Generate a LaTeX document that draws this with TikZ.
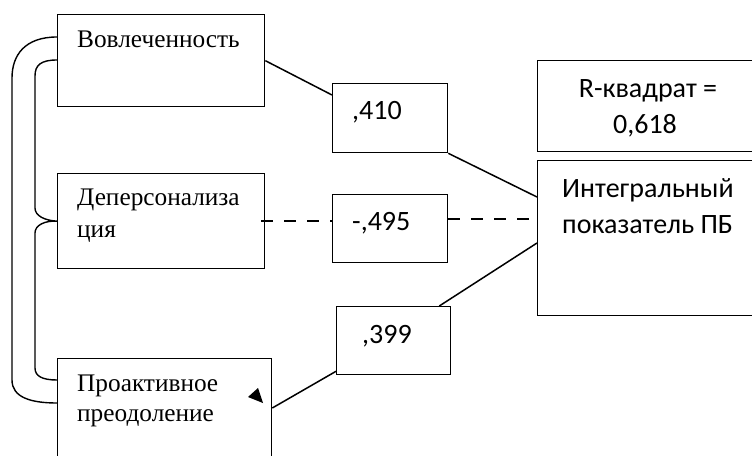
\documentclass[tikz,border=0pt]{standalone}
\usepackage{fontspec}
\setmainfont{Liberation Serif}
\newfontfamily\sansf{Carlito}
\usetikzlibrary{calc}
\begin{document}
\begin{tikzpicture}[x=1pt,y=-1pt,
  box/.style={draw, line width=1.3pt, anchor=north west, inner sep=0pt},
  ltext/.style={anchor=base west, inner sep=0pt, font=\fontsize{25.3}{30}\selectfont},
  rtext/.style={anchor=base, inner sep=0pt, font=\sansf\fontsize{28}{36}\selectfont},
  conn/.style={line width=1.5pt},
  dconn/.style={line width=1.5pt, dash pattern=on 12pt off 11pt},
  brace/.style={line width=1.4pt}]
\useasboundingbox (0,0) rectangle (752,455);
\clip (0,0) rectangle (752,455);
% left boxes
\node[box, minimum width=207pt, minimum height=92pt] (b1) at (57,14) {};
\node[box, minimum width=207pt, minimum height=95pt] (b2) at (57,173) {};
\node[box, minimum width=214pt, minimum height=120pt] (b3) at (57,358) {};
% coefficient boxes
\node[box, minimum width=115pt, minimum height=69pt] (c1) at (332,83) {};
\node[box, minimum width=115pt, minimum height=68pt] (c2) at (332,194) {};
\node[box, minimum width=114pt, minimum height=68pt] (c3) at (336,306) {};
% right boxes
\node[box, minimum width=240pt, minimum height=91pt] (rq) at (537,60) {};
\node[box, minimum width=240pt, minimum height=155pt] (ip) at (537,160) {};
% texts
\node[ltext] (t1) at (77,47) {Вовлеченность};
\node[ltext] (t2a) at (77,205) {Деперсонализа};
\node[ltext] (t2b) at (77,237) {ция};
\node[ltext] (t3a) at (77,391) {Проактивное};
\node[ltext] (t3b) at (77,421) {преодоление};
\node[rtext, anchor=base west] (v1) at (352,119) {,410};
\node[rtext, anchor=base west] (v2) at (352,230) {-,495};
\node[rtext, anchor=base west] (v3) at (362,343) {,399};
\node[rtext] (r1) at (648,97) {R-квадрат =};
\node[rtext] (r2) at (645,133) {0,618};
\node[rtext, anchor=base west] (i1) at (562,197) {Интегральный};
\node[rtext, anchor=base west] (i2) at (562,233) {показатель ПБ};
% connectors
\draw[conn] (b1.east) -- ([yshift=-12pt]c1.north west);
\draw[conn] (c1.south east) -- ([yshift=-37pt]ip.north west);
\coordinate (d0) at ($(b2.east)+(-4,0)$);
\draw[dconn] (d0) -- (d0 -| c2.west);
\coordinate (d1) at ($(ip.north west)+(0,59)$);
\draw[dconn] (d1 -| c2.east) -- (d1);
\draw[conn] ([yshift=-50pt]b3.north east) -- ([yshift=4pt]c3.south west);
\draw[conn] ([xshift=-12pt]c3.north east) -- ([yshift=-83pt]ip.north west);
\fill (248,397) -- (258,388) -- (263,403) -- cycle;
% left brackets
\coordinate (o1) at ([yshift=-23pt]b1.north west);
\coordinate (o2) at ([yshift=-45pt]b3.north west);
\coordinate (n1) at ([yshift=-46pt]b1.north west);
\coordinate (n2) at (b2.west);
\coordinate (n3) at ([yshift=-22pt]b3.north west);
\draw[brace] (o1) .. controls (25,37) and (12,55) .. (12,78) -- (12,380)
   .. controls (12,397) and (30,403) .. (o2);
\draw[brace] (n1) .. controls (41,60) and (35,65) .. (35,76) -- (35,208)
   .. controls (35,216) and (45,220.5) .. (n2)
   .. controls (45,220.5) and (35,225) .. (35,233) -- (35,368)
   .. controls (35,376) and (42,380) .. (n3);
\end{tikzpicture}
\end{document}
